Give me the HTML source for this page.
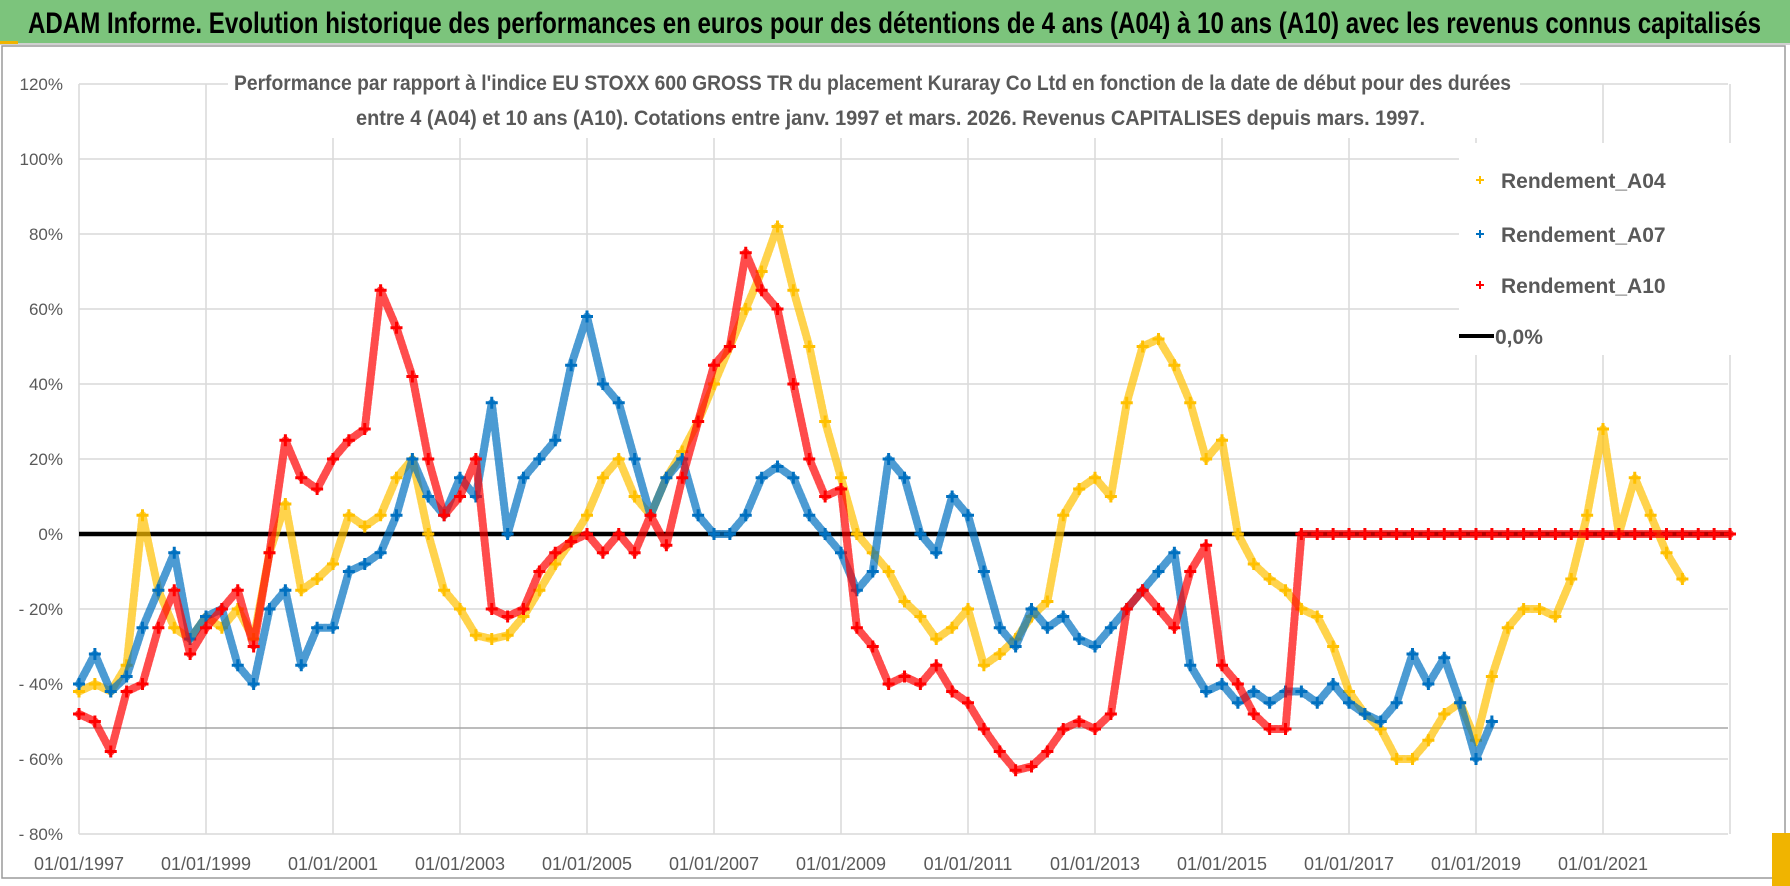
<!DOCTYPE html>
<html><head><meta charset="utf-8"><style>
html,body{margin:0;padding:0;background:#fff;}
svg{display:block;font-family:"Liberation Sans",sans-serif;}
</style></head><body>
<svg id="chart" width="1790" height="886" viewBox="0 0 1790 886" xmlns="http://www.w3.org/2000/svg">
<rect x="0" y="0" width="1790" height="886" fill="#fff"/>
<rect x="0" y="0" width="1790" height="43" fill="#7cc47c"/>
<rect x="0" y="43" width="1790" height="2" fill="#d0d0d0"/>
<rect x="0" y="41" width="18" height="3" fill="#f0b400"/>
<text x="28" y="33" font-size="30" font-weight="bold" fill="#000" textLength="1733" lengthAdjust="spacingAndGlyphs">ADAM Informe. Evolution historique des performances en euros pour des détentions de 4 ans (A04) à 10 ans (A10) avec les revenus connus capitalisés</text>
<rect x="2" y="46" width="1783" height="832" fill="none" stroke="#9a9a9a" stroke-width="1.5"/>
<rect x="1772" y="833" width="18" height="53" fill="#f0b400"/>
<g id="grid"></g>
<g id="yaxis"></g>
<g id="xaxis"></g>
<rect x="228" y="62" width="1292" height="76" fill="#fff"/>
<text x="234" y="90" font-size="21" font-weight="bold" fill="#595959" textLength="1277" lengthAdjust="spacingAndGlyphs">Performance par rapport à l'indice EU STOXX 600 GROSS TR  du placement Kuraray Co Ltd en fonction de la date de début pour des durées</text>
<text x="356" y="125" font-size="21" font-weight="bold" fill="#595959" textLength="1069" lengthAdjust="spacingAndGlyphs">entre 4 (A04) et 10 ans (A10).  Cotations entre janv. 1997 et mars. 2026.  Revenus CAPITALISES depuis mars. 1997.</text>
<g id="series"></g>
<g id="legend">
<rect x="1459" y="143" width="290" height="212" fill="#fff"/>
<g><path d="M1476 180h8M1480 176v8" stroke="#ffc000" stroke-width="2"/><text x="1501" y="188" font-size="21" font-weight="bold" fill="#595959">Rendement_A04</text></g>
<g><path d="M1476 234h8M1480 230v8" stroke="#0070c0" stroke-width="2"/><text x="1501" y="242" font-size="21" font-weight="bold" fill="#595959">Rendement_A07</text></g>
<g><path d="M1476 285h8M1480 281v8" stroke="#ff0000" stroke-width="2"/><text x="1501" y="293" font-size="21" font-weight="bold" fill="#595959">Rendement_A10</text></g>
<g><line x1="1459" y1="336" x2="1494" y2="336" stroke="#000" stroke-width="4"/><text x="1495" y="344" font-size="21" font-weight="bold" fill="#595959">0,0%</text></g>
</g>
</svg>
<script>
// ---- data (values in %, quarterly from startYear) ----
const startYear = 1997;
const stepYears = 0.25;
const yTicks = [120,100,80,60,40,20,0,-20,-40,-60,-80];
const yTickLabels = ["120%","100%","80%","60%","40%","20%","0%","- 20%","- 40%","- 60%","- 80%"];
const xTickYears = [1997,1999,2001,2003,2005,2007,2009,2011,2013,2015,2017,2019,2021];
const xTickLabels = ["01/01/1997","01/01/1999","01/01/2001","01/01/2003","01/01/2005","01/01/2007","01/01/2009","01/01/2011","01/01/2013","01/01/2015","01/01/2017","01/01/2019","01/01/2021"];
const a04 = [-42,-40,-42,-35, 5,-15,-25,-28, -22,-25,-20,-28, -5,8,-15,-12, -8,5,2,5, 15,20,0,-15, -20,-27,-28,-27, -22,-15,-8,-2, 5,15,20,10, 5,15,22,30, 40,50,60,70, 82,65,50,30, 15,0,-5,-10, -18,-22,-28,-25, -20,-35,-32,-28, -22,-18,5,12, 15,10,35,50, 52,45,35,20, 25,0,-8,-12, -15,-20,-22,-30, -42,-48,-52,-60, -60,-55,-48,-45, -55,-38,-25,-20, -20,-22,-12,5, 28,0,15,5, -5,-12];
const a07 = [-40,-32,-42,-38, -25,-15,-5,-28, -22,-20,-35,-40, -20,-15,-35,-25, -25,-10,-8,-5, 5,20,10,5, 15,10,35,0, 15,20,25,45, 58,40,35,20, 5,15,20,5, 0,0,5,15, 18,15,5,0, -5,-15,-10,20, 15,0,-5,10, 5,-10,-25,-30, -20,-25,-22,-28, -30,-25,-20,-15, -10,-5,-35,-42, -40,-45,-42,-45, -42,-42,-45,-40, -45,-48,-50,-45, -32,-40,-33,-45, -60,-50];
const a10 = [-48,-50,-58,-42, -40,-25,-15,-32, -25,-20,-15,-30, -5,25,15,12, 20,25,28,65, 55,42,20,5, 10,20,-20,-22, -20,-10,-5,-2, 0,-5,0,-5, 5,-3,15,30, 45,50,75,65, 60,40,20,10, 12,-25,-30,-40, -38,-40,-35,-42, -45,-52,-58,-63, -62,-58,-52,-50, -52,-48,-20,-15, -20,-25,-10,-3, -35,-40,-48,-52, -52, 0,0,0, 0,0,0,0, 0,0,0,0, 0,0,0,0, 0,0,0,0, 0,0,0,0, 0,0,0,0, 0];
const zeroLine = [0, 0];
const zeroLineYears = [1997, 2023];

// ---- axes ----
const X0 = 79, PX_PER_YEAR = 63.5, XEND = 1728;
const Y0 = 534, PX_PER_PCT = 3.75;
function xScale(year){ return X0 + (year - startYear) * PX_PER_YEAR; }
function yScale(v){ return Y0 - v * PX_PER_PCT; }
const NS = "http://www.w3.org/2000/svg";
function mk(tag, attrs, parent){ const e = document.createElementNS(NS, tag); for (const k in attrs) e.setAttribute(k, attrs[k]); parent.appendChild(e); return e; }

const grid = document.getElementById('grid');
yTicks.forEach(function(t){
  const l = mk('line', {x1:X0, x2:XEND, y1:yScale(t), y2:yScale(t), stroke:'#d9d9d9', 'stroke-width':1.5}, grid);
  
  
});
xTickYears.concat([2023]).forEach(function(yr){
  const l = mk('line', {x1:xScale(yr), x2:xScale(yr), y1:yScale(120), y2:yScale(-80), stroke:'#d9d9d9', 'stroke-width':1.5}, grid);
  
  
});
const darkLine = mk('line', {x1:X0, x2:XEND, y1:728, y2:728, stroke:'#a6a6a6', 'stroke-width':1.5}, grid);



const yaxis = document.getElementById('yaxis');
yTicks.forEach(function(t, i){
  const tx = mk('text', {x:63, y:yScale(t)+6, 'text-anchor':'end', 'font-size':17, fill:'#595959'}, yaxis);
  tx.textContent = yTickLabels[i];
  
  
});
const xaxis = document.getElementById('xaxis');
xTickYears.forEach(function(yr, i){
  const tx = mk('text', {x:xScale(yr), y:870, 'text-anchor':'middle', 'font-size':18, fill:'#595959'}, xaxis);
  tx.textContent = xTickLabels[i];
  
  
});

// ---- series ----
const series = document.getElementById('series');
const zl = mk('line', {x1:xScale(zeroLineYears[0]), x2:xScale(zeroLineYears[1]), y1:yScale(zeroLine[0]), y2:yScale(zeroLine[1]), stroke:'#000', 'stroke-width':4.5}, series);



function drawSeries(vals, color, name){
  const g = mk('g', {}, series);
  
  
  const pts = vals.map(function(v, i){ return xScale(startYear + i*stepYears).toFixed(1) + ',' + yScale(v).toFixed(1); }).join(' ');
  const pl = mk('polyline', {points:pts, fill:'none', stroke:color, 'stroke-width':8, 'stroke-linejoin':'round', 'stroke-linecap':'round', opacity:0.7, 'stroke-dasharray':'3 2'}, g);
  
  
  vals.forEach(function(v, i){
    const x = xScale(startYear + i*stepYears), y = yScale(v);
    const p = mk('path', {d:'M'+(x-6)+' '+y+'h12M'+x+' '+(y-6)+'v12', stroke:color, 'stroke-width':3}, g);
    
    
  });
}
drawSeries(a04, '#ffc000', 'series-a04');
drawSeries(a07, '#0070c0', 'series-a07');
drawSeries(a10, '#ff0000', 'series-a10');
</script>
</body></html>
